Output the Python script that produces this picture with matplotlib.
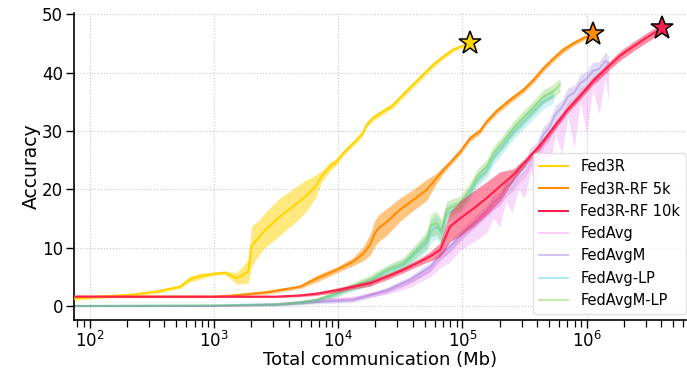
import numpy as np
import matplotlib
matplotlib.use("Agg")
import matplotlib.pyplot as plt
from matplotlib.ticker import LogLocator, FixedLocator

# ---- data: accuracy vs. total communication (Mb) ----
fed3r_x = [75, 211, 355, 533, 643, 773, 989, 1230, 1530, 1890, 2010, 2280,
           2580, 3400, 4500, 5410, 6520, 7380, 8610, 9680, 11000, 12400,
           14000, 15800, 16900, 19100, 23000, 27700, 33300, 40100, 48300,
           58100, 70000, 84100, 101000, 116000]
fed3r_y = [1.3, 1.9, 2.5, 3.3, 4.6, 5.1, 5.5, 5.7, 4.75, 5.9, 10.2, 11.6,
           13.0, 15.3, 17.3, 18.7, 20.4, 22.2, 23.9, 24.7, 26.2, 27.3,
           28.4, 29.6, 31.0, 32.2, 33.3, 34.4, 36.2, 37.9, 39.6,
           41.3, 42.7, 43.9, 44.6, 45.0]
fed3r_sd = [0.3, 0.3, 0.3, 0.3, 0.5, 0.5, 0.3, 0.3, 1.0, 2.0, 3.5, 3.0,
            3.0, 3.2, 3.0, 2.8, 2.0, 1.0, 0.8, 0.6, 0.5, 0.5,
            0.5, 0.5, 0.5, 0.5, 0.5, 0.5, 0.5, 0.5, 0.5,
            0.5, 0.4, 0.4, 0.3, 0.3]

rf5k_x = [75, 1000, 1430, 2660, 4930, 6730, 9750, 13200, 16000, 18100,
          19800, 21100, 24600, 31500, 40400, 51600, 60300, 70300, 79600,
          95700, 115000, 139000, 157000, 189000, 242000, 310000, 373000,
          449000, 541000, 650000, 783000, 942000, 1135000]
rf5k_y = [1.6, 1.6, 1.8, 2.35, 3.3, 4.7, 6.2, 7.6, 9.0, 10.5,
          12.5, 13.3, 14.4, 16.5, 18.2, 19.9, 21.6, 23.3, 24.5,
          26.4, 28.7, 30.0, 31.6, 33.4, 35.3, 37.0, 38.7,
          40.7, 42.4, 43.9, 45.0, 45.9, 46.6]
rf5k_sd = [0.15, 0.15, 0.2, 0.3, 0.3, 0.6, 0.5, 0.7, 1.2, 1.8,
           2.2, 2.3, 2.3, 2.0, 1.8, 1.8, 1.0, 0.6, 0.5,
           0.5, 0.5, 0.5, 0.5, 0.5, 0.5, 0.5, 0.5,
           0.5, 0.5, 0.5, 0.4, 0.4, 0.3]

rf10k_x = [75, 1000, 3160, 4930, 6730, 7150, 9750, 13200, 18100, 24600,
           33500, 45600, 55000, 66100, 72600, 79600, 95700, 123000, 157000,
           201000, 258000, 330000, 422000, 540000, 693000, 887000, 1134000,
           1454000, 1861000, 2381000, 3052000, 4033000]
rf10k_y = [1.6, 1.6, 1.6, 1.8, 2.1, 2.2, 2.7, 3.3, 3.9, 5.0,
           6.2, 7.6, 8.5, 9.6, 11.6, 13.6, 15.0, 16.7, 18.5,
           20.5, 22.5, 25.0, 27.5, 30.5, 33.5, 36.0, 38.6,
           40.8, 42.9, 44.5, 46.0, 47.6]
rf10k_sd = [0.15, 0.15, 0.15, 0.2, 0.3, 0.3, 0.4, 0.4, 0.5, 0.5,
            0.5, 0.6, 0.8, 1.2, 2.0, 2.5, 3.0, 3.0, 2.8,
            2.5, 1.0, 0.6, 0.6, 0.6, 0.6, 0.6, 0.6,
            0.7, 0.8, 0.8, 0.8, 0.8]

avg_x = [75, 1000, 3160, 7150, 13200, 24600, 37900, 55000, 66100, 79600,
         95700, 123000, 157000, 178000, 200000, 224000, 251000, 282000,
         316000, 355000, 398000, 447000, 501000, 562000, 631000, 708000,
         794000, 891000, 1000000, 1122000, 1259000, 1413000, 1500000]
fedavg_y = [0.0, 0.0, 0.3, 1.0, 1.3, 2.5, 4.0, 6.0, 8.0, 9.5,
            11.5, 13.5, 15.5, 16.5, 17.3, 18.8, 19.6, 21.2,
            22.0, 24.0, 24.8, 27.2, 28.5, 30.7, 31.8, 33.8,
            34.5, 36.2, 36.8, 38.3, 38.6, 40.0, 39.8]
fedavg_lo = [0.0, 0.0, 0.2, 0.7, 1.0, 2.0, 3.2, 5.0, 6.5, 7.5,
             9.5, 11.0, 12.5, 15.0, 13.5, 18.0, 16.0, 20.0,
             18.5, 23.0, 20.5, 26.0, 23.5, 29.5, 26.0, 32.5,
             27.0, 35.0, 29.5, 37.0, 33.0, 39.0, 35.0]
fedavg_hi = [0.1, 0.1, 0.5, 1.3, 1.6, 3.0, 4.8, 7.0, 9.0, 10.5,
             12.5, 14.5, 16.5, 17.6, 18.4, 19.9, 20.8, 22.4,
             23.2, 25.2, 26.0, 28.4, 29.7, 31.9, 33.0, 35.0,
             35.7, 37.4, 38.0, 39.5, 39.8, 41.2, 41.0]

fedavgm_y = [0.0, 0.0, 0.2, 0.7, 1.0, 2.7, 4.5, 6.7, 8.7, 10.2,
             12.0, 14.2, 16.3, 17.8, 18.6, 20.3, 21.2, 22.9,
             23.8, 25.9, 26.8, 29.3, 30.6, 32.9, 34.0, 35.9,
             36.6, 38.2, 38.9, 40.3, 40.6, 42.0, 41.6]
fedavgm_sd = [0.1, 0.1, 0.2, 0.3, 0.4, 0.5, 0.6, 0.8, 0.8, 1.0,
              1.0, 1.0, 1.0, 1.2, 1.0, 1.3, 1.1, 1.3,
              1.1, 1.4, 1.2, 1.4, 1.2, 1.5, 1.2, 1.5,
              1.2, 1.5, 1.2, 1.5, 1.3, 1.5, 1.3]

lp_x = [75, 1000, 3160, 4930, 6730, 9140, 12500, 18100, 24600, 33500,
        43000, 51600, 55800, 62200, 68000, 74800, 95700, 115000, 131000,
        157000, 178000, 214000, 258000, 310000, 373000, 449000, 540000,
        611000]
fedavgmlp_y = [0.0, 0.1, 0.3, 0.6, 1.0, 2.0, 3.2, 4.5, 6.2, 7.3,
               9.6, 11.3, 13.8, 14.2, 12.8, 16.5, 17.6, 19.9, 22.2,
               23.9, 26.2, 28.2, 30.5, 32.3, 34.0, 35.9, 36.8,
               37.9]
fedavglp_y = [0.0, 0.1, 0.3, 0.6, 1.0, 1.8, 3.0, 4.2, 5.9, 7.0,
              9.2, 10.8, 12.8, 13.6, 12.4, 15.8, 17.0, 19.2, 21.5,
              23.2, 25.4, 27.5, 29.8, 31.5, 33.3, 35.0, 36.0,
              np.nan]
lp_sd = [0.1, 0.1, 0.2, 0.3, 0.4, 0.5, 0.6, 0.8, 0.8, 1.0,
         1.2, 1.5, 2.0, 2.0, 2.0, 1.5, 1.2, 1.2, 1.2,
         1.2, 1.2, 1.2, 1.2, 1.2, 1.2, 1.2, 1.2, 1.2]

colors = {"Fed3R": "#FFD500", "Fed3R-RF 5k": "#FF8C00",
          "Fed3R-RF 10k": "#FF1F4B", "FedAvg": "#EE82EE",
          "FedAvgM": "#9370DB", "FedAvg-LP": "#40C8E0",
          "FedAvgM-LP": "#6CCB3C"}

plt.rcParams["font.family"] = ["DejaVu Sans"]

fig = plt.figure(figsize=(6.87, 3.68), dpi=100)
ax = fig.add_axes([0.1077, 0.1304, 0.8908, 0.8334])


def band(x, y, sd, c, label, lw=1.5, a_line=1.0, a_fill=0.5, z=3):
    x = np.asarray(x, float)
    y = np.asarray(y, float)
    sd = np.asarray(sd, float)
    ax.fill_between(x, y - sd, y + sd, color=c, alpha=a_fill, lw=0, zorder=z)
    return ax.plot(x, y, color=c, lw=lw, alpha=a_line, label=label,
                   zorder=z + 0.5)[0]


# baselines (light, underneath)
c = colors["FedAvg"]
ax.fill_between(avg_x, fedavg_lo, fedavg_hi, color=c, alpha=0.3, lw=0,
                zorder=1)
h_avg = ax.plot(avg_x, fedavg_y, color=c, lw=1.5, alpha=0.4,
                label="FedAvg", zorder=1.5)[0]
h_avgm = band(avg_x, fedavgm_y, fedavgm_sd, colors["FedAvgM"], "FedAvgM",
              a_line=0.4, a_fill=0.25, z=1.2)
h_lp = band(lp_x, fedavglp_y, lp_sd, colors["FedAvg-LP"], "FedAvg-LP",
            a_line=0.4, a_fill=0.25, z=1.3)
h_mlp = band(lp_x, fedavgmlp_y, lp_sd, colors["FedAvgM-LP"], "FedAvgM-LP",
             a_line=0.4, a_fill=0.3, z=1.4)

# Fed3R variants
h_3r = band(fed3r_x, fed3r_y, fed3r_sd, colors["Fed3R"], "Fed3R", z=3)
h_5k = band(rf5k_x, rf5k_y, rf5k_sd, colors["Fed3R-RF 5k"], "Fed3R-RF 5k", z=3)
h_10k = band(rf10k_x, rf10k_y, rf10k_sd, colors["Fed3R-RF 10k"],
             "Fed3R-RF 10k", z=3)

# final accuracy markers
for xs, ys, name in [(fed3r_x, fed3r_y, "Fed3R"),
                     (rf5k_x, rf5k_y, "Fed3R-RF 5k"),
                     (rf10k_x, rf10k_y, "Fed3R-RF 10k")]:
    ax.plot(xs[-1], ys[-1], marker="*", ms=17, mfc=colors[name], mec="black",
            mew=1.1, zorder=6, clip_on=False)

ax.set_xscale("log")
ax.set_xlim(75, 6.3e6)
ax.set_ylim(-2.4, 50.15)
ax.xaxis.set_major_locator(FixedLocator([1e2, 1e3, 1e4, 1e5, 1e6]))
ax.xaxis.set_minor_locator(LogLocator(base=10, subs=np.arange(2, 10)))
ax.set_yticks([0, 10, 20, 30, 40, 50])

ax.grid(True, which="major", ls=":", color="#c8c8c8", lw=0.8)
ax.set_axisbelow(True)
for s in ["top", "right"]:
    ax.spines[s].set_visible(False)
for s in ["left", "bottom"]:
    ax.spines[s].set_linewidth(1.2)
ax.tick_params(axis="both", which="major", labelsize=12, length=6,
               width=1.0, pad=2)
ax.tick_params(axis="x", which="minor", length=5, width=0.9)

ax.set_xlabel("Total communication (Mb)", fontsize=13, labelpad=0)
ax.set_ylabel("Accuracy", fontsize=13.5, labelpad=1)

leg = ax.legend(handles=[h_3r, h_5k, h_10k, h_avg, h_avgm, h_lp, h_mlp],
                loc="lower right", bbox_to_anchor=(1.0, 0.02),
                borderaxespad=0, fontsize=10.5, frameon=True, fancybox=True,
                edgecolor="#dddddd", framealpha=0.85, labelspacing=0.5)
leg.set_zorder(10)

fig.savefig("out.png", dpi=100)
